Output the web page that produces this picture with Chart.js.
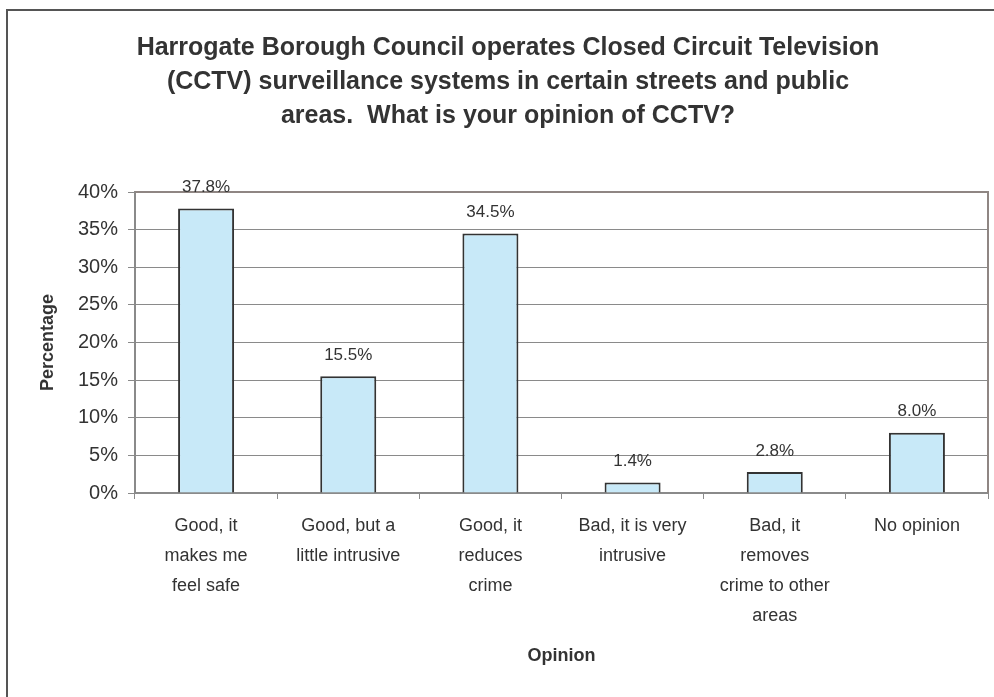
<!DOCTYPE html>
<html>
<head>
<meta charset="utf-8">
<script src="https://cdn.jsdelivr.net/npm/chart.js@4"></script>
<style>
  html, body { margin: 0; padding: 0; background: #fff; }
  #wrap { width: 994px; height: 697px; position: relative; }
</style>
</head>
<body>
<div id="wrap"><canvas id="c" width="994" height="697"></canvas></div>
<script>
const titleLines = [
  "Harrogate Borough Council operates Closed Circuit Television",
  "(CCTV) surveillance systems in certain streets and public",
  "areas.  What is your opinion of CCTV?"
];
const categories = [
  ["Good, it", "makes me", "feel safe"],
  ["Good, but a", "little intrusive"],
  ["Good, it", "reduces", "crime"],
  ["Bad, it is very", "intrusive"],
  ["Bad, it", "removes", "crime to other", "areas"],
  ["No opinion"]
];
const percentages = [37.8, 15.5, 34.5, 1.4, 2.8, 8.0];
const yTicks = [0, 5, 10, 15, 20, 25, 30, 35, 40];
const xTitle = "Opinion";
const yTitle = "Percentage";

const FONT = "'Liberation Sans', Arial, sans-serif";
const TEXT = "#333333";

const framePlugin = {
  id: 'frame',
  beforeDraw(chart) {
    const ctx = chart.ctx;
    ctx.save();
    ctx.fillStyle = '#ffffff';
    ctx.fillRect(0, 0, chart.width, chart.height);
    ctx.strokeStyle = '#555555';
    ctx.lineWidth = 2;
    ctx.beginPath();
    ctx.moveTo(7, chart.height);
    ctx.lineTo(7, 10);
    ctx.lineTo(chart.width, 10);
    ctx.stroke();
    ctx.restore();
  },
  beforeDatasetsDraw(chart) {
    const a = chart.chartArea;
    const ctx = chart.ctx;
    ctx.save();
    ctx.strokeStyle = '#8f8683';
    ctx.lineWidth = 2;
    ctx.beginPath();
    ctx.moveTo(a.left, a.top);
    ctx.lineTo(a.right, a.top);
    ctx.lineTo(a.right, a.bottom);
    ctx.stroke();
    ctx.restore();
  },
  afterDatasetsDraw(chart) {
    const ctx = chart.ctx;
    const meta = chart.getDatasetMeta(0);
    ctx.save();
    ctx.fillStyle = TEXT;
    ctx.font = "17px " + FONT;
    ctx.textAlign = 'center';
    ctx.textBaseline = 'middle';
    meta.data.forEach((bar, i) => {
      ctx.fillText(percentages[i].toFixed(1) + '%', bar.x, bar.y - 21);
    });
    ctx.restore();
  }
};

new Chart(document.getElementById('c'), {
  type: 'bar',
  data: {
    labels: categories,
    datasets: [{
      data: percentages,
      backgroundColor: '#c8e9f8',
      borderColor: '#333333',
      borderWidth: 2,
      barPercentage: 0.394,
      categoryPercentage: 1.0
    }]
  },
  options: {
    responsive: false,
    animation: false,
    devicePixelRatio: 1,
    layout: { padding: { left: 28, right: 6, top: 0, bottom: 0 } },
    plugins: {
      legend: { display: false },
      tooltip: { enabled: false },
      title: {
        display: true,
        text: titleLines,
        color: TEXT,
        font: { family: FONT, size: 25, weight: 'bold', lineHeight: '34px' },
        padding: { top: 31, bottom: 59 }
      }
    },
    scales: {
      x: {
        grid: { display: true, drawOnChartArea: false, drawTicks: true, tickLength: 6, color: '#8a8a8a', offset: true },
        border: { display: true, color: '#8a8a8a', width: 2 },
        ticks: {
          color: TEXT,
          font: { family: FONT, size: 18, lineHeight: '30px' },
          padding: 12,
          maxRotation: 0,
          autoSkip: false
        },
        title: {
          display: true,
          text: xTitle,
          color: TEXT,
          font: { family: FONT, size: 18, weight: 'bold', lineHeight: 1.2 },
          padding: { top: 0, bottom: 30 }
        },
        afterFit(scale) { scale.height = 204; }
      },
      y: {
        min: 0,
        max: 40,
        grid: { color: '#8a8a8a', lineWidth: 1, tickLength: 7, drawTicks: true },
        border: { display: true, color: '#8a8a8a', width: 2 },
        afterBuildTicks(scale) { scale.ticks = yTicks.map(v => ({ value: v })); },
        ticks: {
          color: TEXT,
          font: { family: FONT, size: 20 },
          padding: 10,
          callback: v => v + '%'
        },
        title: {
          display: true,
          text: yTitle,
          color: TEXT,
          font: { family: FONT, size: 18, weight: 'bold', lineHeight: 1.2 },
          padding: { top: 9, bottom: 0 }
        },
        afterFit(scale) { scale.width = 107; }
      }
    }
  },
  plugins: [framePlugin]
});
</script>
</body>
</html>
